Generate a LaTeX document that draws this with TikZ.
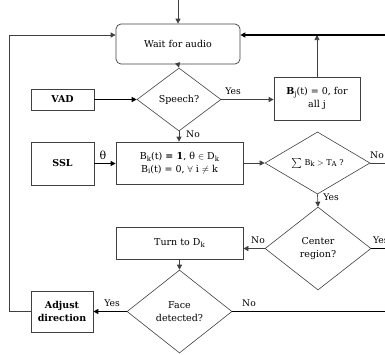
\documentclass[tikz,border=0pt]{standalone}
\usepackage{fontspec}
\setmainfont{DejaVu Serif}
\usetikzlibrary{shapes.geometric,arrows.meta}
\definecolor{lc}{gray}{0.25}
\newcommand\lowsb[1]{\raisebox{-0.35ex}{\fontsize{7}{7}\selectfont #1}}
\begin{document}
\begin{tikzpicture}[x=1pt,y=-1pt,
  font=\fontsize{9.5}{12.5}\selectfont,
  box/.style={draw=lc,line width=0.7pt,inner sep=0pt,align=center},
  dia/.style={draw=lc,line width=0.6pt,diamond,inner sep=0pt,align=center},
  thin/.style={draw=lc,line width=0.7pt},
  thick/.style={draw=black,line width=1.8pt},
  arr/.style={-{Triangle[length=5pt,width=5pt]}},
  lab/.style={font=\fontsize{9.2}{11}\selectfont,inner sep=1pt}]
\useasboundingbox (0,0) rectangle (385,354);
% boxes
\node[box,rounded corners=5pt,minimum width=124,minimum height=40] (wait) at (178,44) {Wait for audio};
\node[box,minimum width=63,minimum height=21] (vad) at (62.5,99.5) {\textbf{VAD}};
\node[box,minimum width=86,minimum height=43] (bj) at (317,98.5) {\textbf{B}\lowsb{j}(t) = 0, for\\all j};
\node[box,minimum width=63,minimum height=43] (ssl) at (62.5,163.5) {\textbf{SSL}};
\node[box,minimum width=127,minimum height=42] (bk) at (179.5,163) {B\lowsb{k}(t) \textbf{= 1}, θ $\in$ D\lowsb{k}\\B\lowsb{i}(t) = 0, $\forall$ i $\neq$ k};
\node[box,minimum width=127,minimum height=32] (turn) at (179.5,243) {Turn to D\lowsb{k}};
\node[box,minimum width=62,minimum height=41] (adj) at (62,311.5) {\textbf{Adjust}\\\textbf{direction}};
% diamonds
\node[dia,minimum width=84,minimum height=63] (speech) at (179,99.5) {Speech?};
\node[dia,minimum width=105,minimum height=62,font=\fontsize{8}{9}\selectfont] (sum) at (317.5,163) {$\sum$ B\lowsb{k} $>$ T\lowsb{A} ?};
\node[dia,minimum width=106,minimum height=83] (center) at (318,248.5) {Center\\region?};
\node[dia,minimum width=105,minimum height=83] (face) at (179.5,311.5) {Face\\detected?};
% free ends
\coordinate (top) at (178,0);
\coordinate (eW) at (385,35);
\coordinate (eS) at (385,163);
\coordinate (eC) at (385,248.5);
\coordinate (eF) at (385,311.5);
\coordinate (lt) at (9,35);
\coordinate (lb) at (9,311.5);
% connectors
\draw[thin,arr] (top) -- (wait.north);
\draw[thin,arr] (wait.south) -- (speech.north);
\draw[thick,arr] (vad.east) -- (vad.east -| speech.west);
\draw[thin,arr] (speech.east) -- (speech.east -| bj.west);
\draw[thin,arr] (bj.north) -- (bj.north |- eW);
\draw[thick,arr] (eW) -- (wait.east |- eW);
\draw[thin,arr] (speech.south) -- (speech.south |- bk.north);
\draw[thick,arr] (ssl.east) -- (ssl.east -| bk.west);
\draw[thin,arr] (bk.east) -- (bk.east -| sum.west);
\draw[thin] (sum.east) -- (eS);
\draw[thin,arr] (sum.south) -- (center.north);
\draw[thin,arr] (center.west) -- (center.west -| turn.east);
\draw[thick] (center.east) -- (eC);
\draw[thin,arr] (turn.south) -- (turn.south |- face.north);
\draw[thick,arr] (face.west) -- (face.west -| adj.east);
\draw[thick] (face.east) -- (eF);
\draw[thin,arr] (adj.west) -- (lb) -- (lt) -- (wait.west |- lt);
% labels
\node[lab] at (233,91) {Yes};
\node[lab] at (193,134) {No};
\node[lab,font=\fontsize{11}{12}\selectfont] at (103,155) {θ};
\node[lab] at (377,155) {No};
\node[lab] at (331,197) {Yes};
\node[lab] at (258,240) {No};
\node[lab,anchor=west] at (372,240) {Yes};
\node[lab] at (112,303) {Yes};
\node[lab] at (249,303) {No};
\end{tikzpicture}
\end{document}
